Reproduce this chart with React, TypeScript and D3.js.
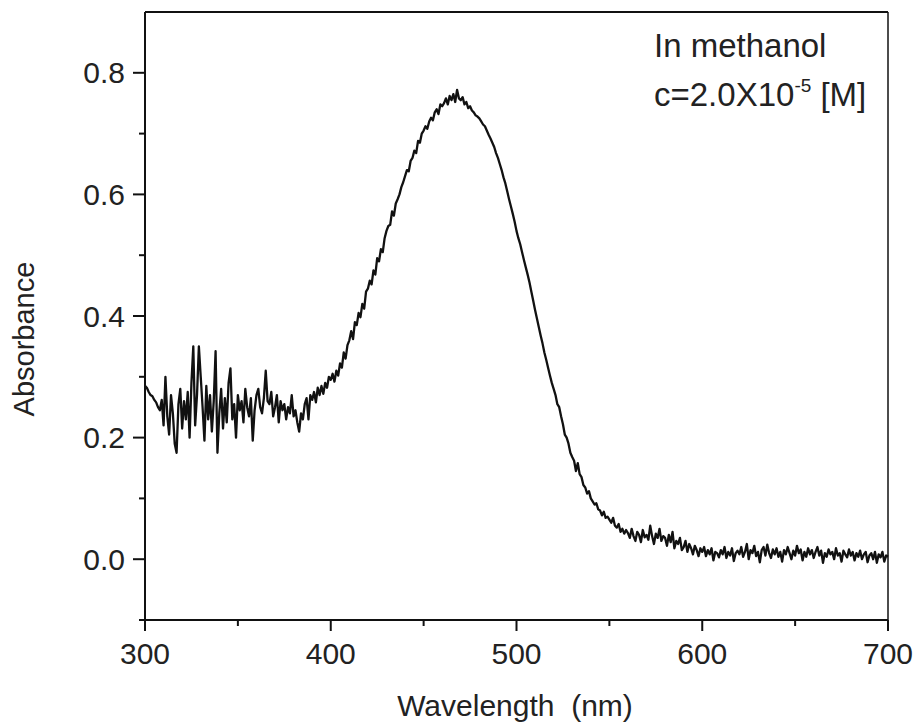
import React from "react";
import * as d3 from "d3";

// Wavelength sampling (nm): 300..700 at 1 nm
const startWavelength = 300;
const stepWavelength = 1;

// Absorbance values, 1 nm apart, 300..700 nm
const absorbance: number[] = [
  // 300-309
  0.285, 0.282, 0.275, 0.27, 0.268, 0.262, 0.258, 0.25, 0.245, 0.262,
  // 310-319
  0.22, 0.30, 0.235, 0.205, 0.27, 0.24, 0.19, 0.175, 0.255, 0.28,
  // 320-329
  0.215, 0.26, 0.23, 0.275, 0.2, 0.29, 0.35, 0.22, 0.27, 0.35,
  // 330-339
  0.3, 0.25, 0.195, 0.285, 0.23, 0.27, 0.21, 0.26, 0.342, 0.175,
  // 340-349
  0.24, 0.28, 0.215, 0.265, 0.225, 0.29, 0.314, 0.23, 0.255, 0.2,
  // 350-359
  0.27, 0.245, 0.26, 0.225, 0.28, 0.25, 0.235, 0.265, 0.195, 0.245,
  // 360-369
  0.27, 0.28, 0.25, 0.24, 0.265, 0.31, 0.26, 0.255, 0.275, 0.235,
  // 370-379
  0.25, 0.27, 0.225, 0.26, 0.245, 0.255, 0.23, 0.25, 0.24, 0.27,
  // 380-389
  0.235, 0.245, 0.225, 0.21, 0.24, 0.23, 0.255, 0.265, 0.23, 0.27,
  // 390-399
  0.262, 0.275, 0.258, 0.282, 0.27, 0.285, 0.272, 0.29, 0.282, 0.3,
  // 400-409
  0.295, 0.305, 0.292, 0.31, 0.302, 0.322, 0.315, 0.34, 0.33, 0.352,
  // 410-419
  0.36, 0.375, 0.362, 0.39, 0.385, 0.405, 0.398, 0.42, 0.412, 0.44,
  // 420-429
  0.445, 0.458, 0.452, 0.475, 0.468, 0.495, 0.49, 0.51, 0.505, 0.528,
  // 430-439
  0.54, 0.548, 0.55, 0.572, 0.565, 0.585, 0.592, 0.6, 0.612, 0.62,
  // 440-449
  0.63, 0.64, 0.638, 0.655, 0.66, 0.672, 0.668, 0.688, 0.685, 0.7,
  // 450-459
  0.705, 0.712, 0.708, 0.72, 0.726, 0.722, 0.735, 0.74, 0.732, 0.748,
  // 460-469
  0.745, 0.75, 0.758, 0.748, 0.762, 0.755, 0.765, 0.752, 0.772, 0.758,
  // 470-479
  0.755, 0.76, 0.748, 0.752, 0.742, 0.745, 0.738, 0.735, 0.73, 0.728,
  // 480-489
  0.725, 0.72, 0.715, 0.712, 0.705, 0.698, 0.692, 0.685, 0.678, 0.668,
  // 490-499
  0.66, 0.65, 0.64, 0.628, 0.618, 0.605, 0.592, 0.58, 0.568, 0.555,
  // 500-509
  0.54, 0.528, 0.518, 0.505, 0.492, 0.48, 0.468, 0.455, 0.44, 0.425,
  // 510-519
  0.41, 0.396, 0.382, 0.368, 0.355, 0.34, 0.328, 0.315, 0.302, 0.29,
  // 520-529
  0.28, 0.27, 0.255, 0.25, 0.235, 0.222, 0.205, 0.2, 0.19, 0.175,
  // 530-539
  0.168, 0.162, 0.145, 0.158, 0.14, 0.135, 0.122, 0.118, 0.108, 0.112,
  // 540-549
  0.1, 0.095, 0.09, 0.092, 0.082, 0.08, 0.072, 0.078, 0.068, 0.07,
  // 550-559
  0.065, 0.06, 0.068, 0.055, 0.052, 0.058, 0.045, 0.05, 0.042, 0.048,
  // 560-569
  0.043, 0.035, 0.05, 0.038, 0.03, 0.045, 0.04, 0.028, 0.048, 0.036,
  // 570-579
  0.04, 0.032, 0.055, 0.038, 0.025, 0.042, 0.035, 0.05, 0.03, 0.038,
  // 580-589
  0.035, 0.022, 0.04, 0.028, 0.045, 0.018, 0.03, 0.025, 0.035, 0.015,
  // 590-599
  0.02, 0.03, 0.012, 0.025, 0.018, 0.008, 0.022, 0.015, 0.005, 0.018,
  // 600-609
  0.012, 0.02, 0.005, 0.015, 0.008, 0.018, -0.002, 0.012, 0.01, 0.003,
  // 610-619
  0.015, 0.008, 0.02, 0.002, 0.012, 0.006, 0.018, -0.003, 0.01, 0.014,
  // 620-629
  0.008, 0.02, 0.004, 0.012, 0.025, 0.0, 0.015, 0.01, 0.022, 0.005,
  // 630-639
  0.012, -0.005, 0.015, 0.02, 0.006, 0.024, 0.01, 0.002, 0.016, 0.008,
  // 640-649
  0.018, 0.004, 0.012, -0.004, 0.015, 0.008, 0.02, 0.01, 0.0, 0.014,
  // 650-659
  0.006, 0.022, 0.01, 0.016, -0.002, 0.012, 0.004, 0.018, 0.008, 0.015,
  // 660-669
  0.002, 0.012, 0.02, 0.006, 0.014, -0.006, 0.01, 0.004, 0.016, 0.008,
  // 670-679
  0.012, 0.0, 0.018, 0.006, 0.01, -0.004, 0.014, 0.008, 0.003, 0.016,
  // 680-689
  0.006, 0.012, -0.002, 0.01, 0.004, 0.014, 0.0, 0.008, 0.012, -0.005,
  // 690-699
  0.006, 0.01, 0.0, 0.012, -0.006, 0.008, 0.003, 0.012, -0.004, 0.006,
  // 700
  0.004,
];

const xMajorTicks = [300, 400, 500, 600, 700];
const xMinorTicks = [350, 450, 550, 650];
const yMajorTicks = [0.0, 0.2, 0.4, 0.6, 0.8];
const yMinorTicks = [-0.1, 0.1, 0.3, 0.5, 0.7];

const xLabel = "Wavelength\u00a0\u00a0(nm)";
const yLabel = "Absorbance";
const noteLine1 = "In methanol";

const W = 918;
const H = 726;
const left = 145;
const right = 888;
const top = 12;
const bottom = 620;
const FONT = "'Liberation Sans', Arial, Helvetica, sans-serif";
const TEXT = "#222";

export default function App() {
  const x = d3.scaleLinear().domain([300, 700]).range([left, right]);
  const y = d3.scaleLinear().domain([-0.1, 0.9]).range([bottom, top]);

  const points = absorbance.map((a, i) => [startWavelength + i * stepWavelength, a] as [number, number]);
  const line = d3
    .line<[number, number]>()
    .x((d) => x(d[0]))
    .y((d) => y(d[1]));

  return (
    <svg
      width={W}
      height={H}
      style={{ position: "absolute", left: 0, top: 0, background: "#fff" }}
      fontFamily={FONT}
    >
      <rect x={0} y={0} width={W} height={H} fill="#fff" />
      {/* data */}
      <path d={line(points) || ""} fill="none" stroke="#111" strokeWidth={2.3} strokeLinejoin="round" />
      {/* frame */}
      <line x1={left} x2={right} y1={top} y2={top} stroke="#111" strokeWidth={2} />
      <line x1={right} x2={right} y1={top} y2={bottom} stroke="#111" strokeWidth={1.5} />
      <line x1={left} x2={right} y1={bottom} y2={bottom} stroke="#111" strokeWidth={2} />
      <line x1={left} x2={left} y1={top} y2={bottom} stroke="#111" strokeWidth={2} />
      {/* x ticks */}
      {xMajorTicks.map((t) => (
        <g key={"xm" + t}>
          <line x1={x(t)} x2={x(t)} y1={bottom} y2={bottom + 11} stroke="#111" strokeWidth={2} />
          <text x={x(t)} y={664} textAnchor="middle" fontSize={30} fill={TEXT}>
            {String(t)}
          </text>
        </g>
      ))}
      {xMinorTicks.map((t) => (
        <line key={"xn" + t} x1={x(t)} x2={x(t)} y1={bottom} y2={bottom + 6} stroke="#111" strokeWidth={2} />
      ))}
      {/* y ticks */}
      {yMajorTicks.map((t) => (
        <g key={"ym" + t}>
          <line x1={left - 12} x2={left} y1={y(t)} y2={y(t)} stroke="#111" strokeWidth={2} />
          <text x={125} y={y(t) + 10.5} textAnchor="end" fontSize={30} fill={TEXT}>
            {t.toFixed(1)}
          </text>
        </g>
      ))}
      {yMinorTicks.map((t) => (
        <line key={"yn" + t} x1={left - 6} x2={left} y1={y(t)} y2={y(t)} stroke="#111" strokeWidth={2} />
      ))}
      {/* axis labels */}
      <text x={515} y={716} textAnchor="middle" fontSize={30} fill={TEXT}>
        {xLabel}
      </text>
      <text
        transform={`translate(34, 339) rotate(-90)`}
        textAnchor="middle"
        fontSize={29}
        fill={TEXT}
      >
        {yLabel}
      </text>
      {/* annotation */}
      <text x={654} y={57} fontSize={33} fill={TEXT}>
        {noteLine1}
      </text>
      <text x={654} y={106} fontSize={33} fill={TEXT}>
        c=2.0X10
        <tspan fontSize={19} dy={-14}>-5</tspan>
        <tspan dy={14}>{"\u00a0[M]"}</tspan>
      </text>
    </svg>
  );
}
